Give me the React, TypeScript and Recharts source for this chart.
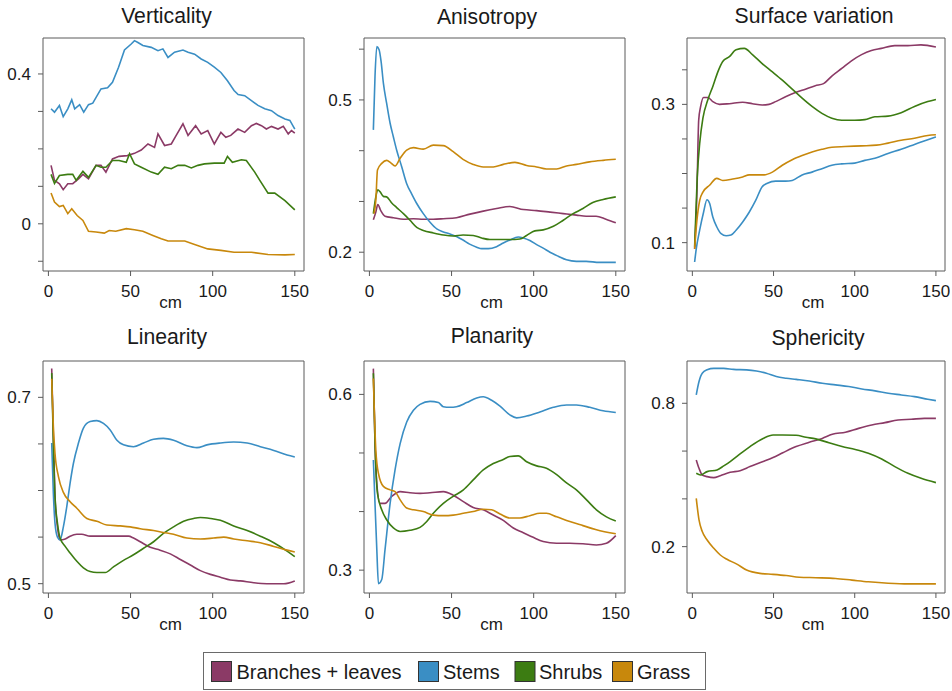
import React from 'react';
import { LineChart, Line, XAxis, YAxis, ReferenceArea } from 'recharts';

type Pt = [number, number];

// ---------- series names & colours ----------
const seriesNames = ['Branches + leaves', 'Stems', 'Shrubs', 'Grass'];
const seriesColors = ['#8B3A66', '#3A8EC4', '#3C7C12', '#C8880C'];

// ---------- shared x axis ----------
const xDomain = [-3.3, 155.6];
const xTicks = [0, 50, 100, 150];
const xLabel = 'cm';

// ---------- Verticality ----------
const verticalityYDomain = [-0.126, 0.496];
const verticalityYTicks = [-0.1, 0, 0.1, 0.2, 0.3, 0.4];
const verticalityYLabels = ['', '0', '', '', '', '0.4'];
const verticalityBranches: Pt[] = [[1.6,.156],[3.7,.116],[6.7,.107],[9,.091],[11.8,.107],[14.8,.107],[18.3,.12],[21,.132],[24.4,.12],[29,.156],[32,.156],[35,.138],[39,.173],[43,.18],[48,.182],[52.4,.188],[56.5,.197],[60.6,.213],[64.6,.204],[66.7,.24],[70.7,.209],[74.8,.213],[77.8,.236],[81.9,.267],[85,.236],[89.6,.262],[93,.24],[97,.249],[101,.213],[105,.244],[108,.231],[111,.236],[115.4,.253],[119.5,.244],[123.6,.262],[126.6,.268],[129.7,.262],[132.7,.253],[135.8,.26],[139.8,.253],[143,.26],[146,.24],[148,.249],[150,.242]];
const verticalityStems: Pt[] = [[1.6,.307],[3.7,.298],[6.7,.316],[9,.286],[11.8,.307],[14.2,.331],[16,.307],[19,.318],[21.5,.298],[24.4,.318],[27,.322],[32,.36],[36,.363],[39,.378],[42.7,.418],[46.3,.464],[50.4,.48],[52.4,.489],[54.5,.484],[57.5,.476],[62.6,.471],[66.7,.462],[69.7,.467],[72.8,.444],[76.8,.458],[81.9,.464],[85,.458],[89,.453],[93,.44],[97,.431],[101,.418],[105,.404],[109,.382],[113,.356],[115.5,.345],[119.5,.342],[123.6,.329],[127.6,.316],[131.7,.307],[135.8,.302],[139.8,.289],[144,.28],[147,.276],[150,.253]];
const verticalityShrubs: Pt[] = [[1.6,.132],[3.7,.108],[6.7,.129],[11.8,.132],[14.8,.132],[16.9,.116],[21,.14],[24.4,.124],[29,.156],[32,.151],[35,.151],[39,.169],[43,.169],[47.4,.164],[49.4,.187],[52.4,.16],[56.5,.151],[62.6,.138],[66.7,.132],[70.7,.151],[74.8,.147],[78.9,.156],[83,.156],[87,.149],[91,.156],[95,.16],[101,.162],[107,.162],[109,.18],[112,.164],[117.5,.171],[120.5,.169],[125.6,.138],[128.7,.116],[133.7,.082],[137.8,.082],[144,.062],[150,.037]];
const verticalityGrass: Pt[] = [[1.6,.082],[3.7,.058],[6.7,.046],[9,.049],[11.8,.027],[14.2,.04],[17.5,.022],[21,.009],[24.4,-.02],[29,-.022],[34,-.025],[37,-.018],[41,-.02],[47.4,-.013],[52.4,-.016],[57.5,-.02],[63.6,-.031],[68.7,-.04],[72.8,-.046],[83,-.046],[89,-.055],[97,-.067],[105,-.071],[113,-.076],[123.6,-.076],[133.7,-.082],[144,-.083],[150,-.082]];

// ---------- Anisotropy ----------
const anisotropyYDomain = [0.163, 0.622];
const anisotropyYTicks = [0.2, 0.3, 0.4, 0.5, 0.6];
const anisotropyYLabels = ['0.2', '', '', '0.5', ''];
const anisotropyBranches: Pt[] = [[2.4,.264],[3.9,.279],[5.1,.294],[6.9,.282],[9.5,.271],[14.6,.268],[20.7,.265],[26.8,.266],[32.8,.265],[38.9,.265],[45,.266],[53,.268],[61.2,.275],[69.3,.281],[77.4,.286],[85.5,.29],[93.7,.284],[101.8,.282],[110,.279],[118,.276],[126,.273],[132,.271],[138,.271],[144,.265],[150,.258]];
const anisotropyStems: Pt[] = [[2.4,.441],[3.4,.546],[4.5,.605],[5.9,.599],[7.1,.576],[8.5,.533],[10.5,.493],[12.6,.454],[14.6,.427],[16.6,.401],[19.7,.368],[22.7,.335],[25.7,.315],[28.8,.296],[32.8,.276],[36.9,.259],[41,.246],[45,.24],[49,.236],[53,.231],[57,.224],[61,.216],[65.3,.21],[68.3,.207],[72.4,.207],[77.4,.211],[81.5,.218],[85.5,.224],[90.6,.23],[93.7,.228],[97.7,.223],[101.8,.215],[105.8,.208],[109.9,.2],[115,.192],[120,.185],[126,.182],[132,.182],[140,.18],[150,.18]];
const anisotropyShrubs: Pt[] = [[2.4,.276],[3.9,.309],[5.1,.323],[6.5,.319],[8.5,.31],[10.5,.309],[13.6,.297],[16.6,.288],[20.7,.276],[24.7,.263],[28.8,.249],[32.8,.243],[38.9,.238],[45,.234],[51,.232],[57,.234],[63.2,.233],[68.3,.228],[73.4,.225],[79.5,.225],[85.5,.225],[91.6,.226],[95.7,.233],[100.7,.242],[105.8,.244],[112,.251],[118,.263],[124,.276],[130,.286],[136,.298],[142.3,.304],[150,.309]];
const anisotropyGrass: Pt[] = [[2.8,.276],[3.9,.302],[4.9,.362],[7.5,.375],[10.5,.381],[13,.376],[15.6,.37],[18.7,.385],[22.7,.401],[26.8,.406],[32.8,.403],[38.9,.411],[45,.41],[51,.398],[57,.383],[63.2,.373],[69.3,.368],[75.4,.368],[81.5,.373],[88.6,.377],[95.7,.371],[101.8,.368],[107.8,.364],[114,.364],[120,.37],[126,.373],[134,.378],[142.3,.381],[150,.383]];

// ---------- Surface variation ----------
const surfaceYDomain = [0.059, 0.396];
const surfaceYTicks = [0.1, 0.15, 0.2, 0.25, 0.3, 0.35];
const surfaceYLabels = ['0.1', '', '', '', '0.3', ''];
const surfaceBranches: Pt[] = [[1.4,.091],[2.8,.171],[3.9,.277],[5.1,.297],[6.9,.31],[9.6,.31],[12.6,.304],[16.7,.3],[22.8,.301],[31,.303],[37,.301],[43,.299],[47.2,.3],[51.3,.304],[57.4,.311],[63.5,.317],[69.6,.322],[75.7,.327],[80.8,.33],[85.9,.341],[92,.352],[98,.363],[104.2,.372],[110.3,.378],[116.4,.381],[124.6,.385],[132.7,.385],[140.8,.386],[150,.383]];
const surfaceStems: Pt[] = [[1.4,.072],[2.4,.091],[4.5,.118],[6.9,.144],[9,.162],[10.6,.157],[12.6,.137],[15,.123],[17.7,.113],[20.8,.11],[23.8,.111],[26.9,.118],[31,.13],[35,.144],[39,.161],[43,.181],[46.2,.186],[51.3,.189],[57.4,.189],[61.5,.19],[67.6,.198],[73.7,.202],[79.8,.207],[85.9,.212],[92,.214],[100,.215],[106.2,.219],[112.4,.222],[120.5,.229],[128.6,.235],[136.8,.242],[145,.249],[150,.253]];
const surfaceShrubs: Pt[] = [[1.4,.094],[3,.195],[4.5,.243],[6.5,.28],[9.6,.307],[12.6,.326],[15.7,.347],[18.7,.362],[22.8,.369],[26.9,.379],[32,.381],[37,.372],[43,.359],[49.3,.347],[55.4,.335],[61.5,.322],[67.6,.309],[73.7,.297],[79.8,.287],[85.9,.28],[92,.277],[100,.277],[106.2,.278],[112.4,.282],[120.5,.283],[128.6,.288],[136.8,.297],[145,.304],[150,.307]];
const surfaceGrass: Pt[] = [[1.4,.091],[2.8,.132],[4.5,.161],[6.5,.173],[10.6,.183],[15,.193],[18.7,.19],[24.8,.192],[31,.195],[35,.198],[44.2,.198],[49.3,.202],[55.4,.212],[61.5,.22],[67.6,.226],[73.7,.231],[79.8,.235],[85.9,.238],[94,.239],[104.2,.24],[113.4,.241],[120.5,.244],[128.6,.248],[136.8,.251],[145,.255],[150,.256]];

// ---------- Linearity ----------
const linearityYDomain = [0.49, 0.739];
const linearityYTicks = [0.5, 0.55, 0.6, 0.65, 0.7];
const linearityYLabels = ['0.5', '', '', '', '0.7'];
const linearityBranches: Pt[] = [[2,.731],[3,.658],[4,.594],[5.5,.561],[7.1,.547],[10.2,.548],[13.2,.551],[17.3,.553],[20.3,.553],[25.4,.551],[31.5,.551],[37.6,.551],[43.7,.551],[48.8,.551],[51.8,.549],[55.9,.545],[62,.539],[68,.536],[74.2,.532],[80.3,.526],[86.4,.52],[92.5,.514],[98.6,.51],[104.7,.507],[110.8,.504],[116.9,.503],[125,.501],[133,.5],[143.3,.5],[150,.503]];
const linearityStems: Pt[] = [[2,.651],[3,.597],[4,.565],[5.5,.55],[7.1,.547],[9.1,.561],[11.2,.583],[13.2,.608],[15.2,.629],[18.3,.651],[21.3,.667],[25.4,.674],[29.5,.675],[33.5,.672],[37.6,.665],[41.7,.654],[45.7,.649],[51.8,.647],[57.9,.651],[64,.655],[70,.656],[76.2,.654],[84.3,.648],[90.4,.646],[96.5,.649],[104.7,.651],[112.8,.652],[121,.651],[129,.647],[137.2,.643],[145.3,.638],[150,.636]];
const linearityShrubs: Pt[] = [[2,.726],[3,.651],[4,.594],[5.5,.565],[7.1,.549],[10.2,.54],[13.2,.533],[17.3,.524],[21.3,.517],[25.4,.513],[29.5,.512],[34.6,.512],[39.6,.518],[45.7,.525],[51.8,.531],[57.9,.538],[64,.545],[70,.554],[76.2,.561],[82.3,.567],[88.4,.57],[92.5,.571],[98.6,.57],[104.7,.568],[112.8,.562],[121,.557],[129,.551],[137.2,.544],[145.3,.535],[150,.529]];
const linearityGrass: Pt[] = [[2,.72],[3,.669],[4,.64],[6.1,.615],[9.1,.598],[13.2,.588],[17.3,.581],[23.4,.57],[29.5,.567],[35.6,.563],[43.7,.562],[49.8,.561],[55.9,.559],[64,.557],[70,.555],[76.2,.553],[84.3,.549],[92.5,.548],[100.6,.549],[106.7,.55],[112.8,.548],[121,.546],[129,.544],[137.2,.54],[145.3,.536],[150,.534]];

// ---------- Planarity ----------
const planarityYDomain = [0.261, 0.657];
const planarityYTicks = [0.3, 0.4, 0.5, 0.6];
const planarityYLabels = ['0.3', '', '', '0.6'];
const planarityBranches: Pt[] = [[2.4,.644],[3.4,.516],[4.5,.448],[6.5,.414],[9.5,.414],[13.6,.426],[18.7,.434],[24.7,.432],[30.8,.431],[36.9,.432],[45,.434],[51,.428],[57.2,.417],[63.2,.407],[69.3,.403],[75.4,.394],[81.5,.385],[87.6,.372],[93.7,.364],[99.7,.356],[105.8,.349],[113.9,.346],[122,.346],[130,.345],[138.2,.343],[144.3,.346],[150,.359]];
const planarityStems: Pt[] = [[2.4,.488],[3.4,.414],[4.5,.335],[5.5,.277],[7.5,.284],[9.5,.335],[12.6,.414],[15.6,.471],[18.7,.516],[22.7,.553],[26.8,.573],[30.8,.583],[36.9,.588],[42,.586],[45,.579],[49,.578],[53,.579],[59.2,.586],[65.3,.594],[69.3,.596],[74.4,.59],[79.5,.58],[85.5,.565],[89.6,.56],[95.7,.563],[103.8,.57],[112,.578],[120,.582],[126,.582],[134.2,.578],[142.3,.572],[150,.569]];
const planarityShrubs: Pt[] = [[2.4,.636],[3.4,.516],[4.9,.431],[7.5,.403],[10.5,.386],[14.6,.372],[18.7,.366],[24.7,.368],[30.8,.373],[34.9,.383],[38.9,.397],[45,.414],[51,.426],[57.2,.437],[63.2,.454],[69.3,.471],[75.4,.482],[81.5,.489],[85.5,.494],[90.6,.495],[95.7,.485],[101.8,.478],[107.8,.474],[114,.463],[120,.449],[126,.437],[132.2,.42],[138.2,.403],[144.3,.391],[150,.384]];
const planarityGrass: Pt[] = [[2.4,.627],[3.9,.505],[5.5,.465],[8.5,.443],[12.6,.437],[15.6,.434],[18.7,.42],[22.7,.406],[26.8,.403],[32.8,.4],[38.9,.394],[45,.393],[51,.394],[57.2,.397],[63.2,.4],[69.3,.404],[74.4,.403],[79.5,.396],[85.5,.389],[91.6,.389],[97.7,.393],[103.8,.397],[107.8,.397],[114,.391],[122,.383],[130,.376],[138.2,.369],[150,.362]];

// ---------- Sphericity ----------
const sphericityYDomain = [0.006, 0.977];
const sphericityYTicks = [0.2, 0.4, 0.6, 0.8];
const sphericityYLabels = ['0.2', '', '', '0.8'];
const sphericityBranches: Pt[] = [[2.4,.563],[4.1,.528],[6.1,.5],[9.1,.493],[13.2,.489],[17.2,.497],[23.3,.511],[29.4,.518],[35.5,.535],[43.6,.556],[49.7,.573],[55.7,.593],[63.9,.619],[72,.637],[80,.653],[86.2,.67],[94.3,.679],[102.4,.695],[110.5,.709],[118.6,.719],[126.7,.73],[134.8,.733],[142.9,.737],[150,.737]];
const sphericityStems: Pt[] = [[2.4,.835],[4.1,.891],[6.1,.926],[9.1,.94],[13.2,.946],[19.3,.946],[25.3,.942],[33.4,.94],[39.5,.935],[45.6,.926],[51.7,.912],[57.8,.905],[63.9,.9],[72,.893],[80,.884],[88.2,.877],[96.3,.87],[104.4,.86],[112.5,.852],[120.6,.842],[128.7,.835],[136.8,.828],[145,.817],[150,.811]];
const sphericityShrubs: Pt[] = [[2.4,.507],[5.1,.5],[9.1,.514],[15.2,.521],[19.3,.538],[23.3,.556],[29.4,.588],[35.5,.619],[43.6,.653],[49.7,.667],[55.7,.667],[63.9,.666],[70,.658],[76,.651],[84.1,.635],[92.2,.619],[100.3,.607],[108.4,.591],[116.6,.567],[124.7,.535],[132.8,.507],[140.9,.486],[150,.468]];
const sphericityGrass: Pt[] = [[2.4,.402],[4.1,.312],[6.1,.263],[9.1,.228],[13.2,.193],[17.2,.165],[21.3,.147],[27.4,.127],[33.4,.102],[41.6,.088],[49.7,.084],[57.8,.079],[65.9,.072],[76,.07],[88.2,.067],[98.3,.06],[108.4,.053],[120.6,.047],[132.8,.044],[150,.044]];

// ---------- layout ----------
const FONT = '"Liberation Sans", Arial, Helvetica, sans-serif';
const AXIS_GRAY = '#5a5a5a';
const TEXT = '#1a1a1a';

type Panel = {
  title: string;
  box: [number, number, number, number]; // left, top, right, bottom
  titleX: number;
  titleY: number;
  yDomain: number[];
  yTicks: number[];
  yLabels: string[];
  series: Pt[][];
  curve: 'linear' | 'monotone';
};

const panels: Panel[] = [
  { title: 'Verticality', box: [43, 38, 304, 271], titleX: 166.5, titleY: 23, yDomain: verticalityYDomain, yTicks: verticalityYTicks, yLabels: verticalityYLabels, series: [verticalityBranches, verticalityStems, verticalityShrubs, verticalityGrass], curve: 'linear' },
  { title: 'Anisotropy', box: [364, 38, 625, 271], titleX: 487, titleY: 23.5, yDomain: anisotropyYDomain, yTicks: anisotropyYTicks, yLabels: anisotropyYLabels, series: [anisotropyBranches, anisotropyStems, anisotropyShrubs, anisotropyGrass], curve: 'monotone' },
  { title: 'Surface variation', box: [687, 38, 945, 271], titleX: 814, titleY: 23, yDomain: surfaceYDomain, yTicks: surfaceYTicks, yLabels: surfaceYLabels, series: [surfaceBranches, surfaceStems, surfaceShrubs, surfaceGrass], curve: 'monotone' },
  { title: 'Linearity', box: [43, 361, 304, 593], titleX: 167, titleY: 343.5, yDomain: linearityYDomain, yTicks: linearityYTicks, yLabels: linearityYLabels, series: [linearityBranches, linearityStems, linearityShrubs, linearityGrass], curve: 'monotone' },
  { title: 'Planarity', box: [364, 361, 625, 593], titleX: 492, titleY: 343, yDomain: planarityYDomain, yTicks: planarityYTicks, yLabels: planarityYLabels, series: [planarityBranches, planarityStems, planarityShrubs, planarityGrass], curve: 'monotone' },
  { title: 'Sphericity', box: [687, 361, 945, 593], titleX: 818, titleY: 345, yDomain: sphericityYDomain, yTicks: sphericityYTicks, yLabels: sphericityYLabels, series: [sphericityBranches, sphericityStems, sphericityShrubs, sphericityGrass], curve: 'monotone' },
];

const toPts = (arr: Pt[]) => arr.map(([x, y]) => ({ x, y }));

const makeYTick = (ticks: number[], labels: string[]) => (props: any) => {
  const { x, y, payload } = props;
  const i = ticks.findIndex((t) => Math.abs(t - payload.value) < 1e-9);
  const lbl = i >= 0 ? labels[i] : '';
  return (
    <text x={x} y={y} dy="0.355em" textAnchor="end" fontSize={17} fontFamily={FONT} fill={TEXT}>
      {lbl}
    </text>
  );
};

const XTick = (props: any) => {
  const { x, y, payload } = props;
  return (
    <text x={x} y={y} dy="0.71em" textAnchor="middle" fontSize={17} fontFamily={FONT} fill={TEXT}>
      {payload.value}
    </text>
  );
};

const PAD_L = 45;
const PAD_T = 5;
const PAD_R = 5;
const XAX_H = 40;

function PanelChart({ p }: { p: Panel }) {
  const [l, t, r, b] = p.box;
  const w = r - l + PAD_L + PAD_R;
  const h = b - t + PAD_T + XAX_H;
  return (
    <div style={{ position: 'absolute', left: l - PAD_L, top: t - PAD_T, width: w, height: h }}>
      <LineChart width={w} height={h} margin={{ top: PAD_T, right: PAD_R, left: 0, bottom: 0 }}>
        <XAxis
          type="number"
          dataKey="x"
          domain={xDomain}
          allowDataOverflow
          ticks={xTicks}
          interval={0}
          height={XAX_H}
          axisLine={false}
          tickLine={{ stroke: AXIS_GRAY, strokeWidth: 1 }}
          tickSize={5}
          tickMargin={9}
          tick={XTick}
        />
        <YAxis
          type="number"
          dataKey="y"
          domain={p.yDomain}
          allowDataOverflow
          ticks={p.yTicks}
          interval={0}
          width={PAD_L}
          axisLine={false}
          tickLine={{ stroke: AXIS_GRAY, strokeWidth: 1 }}
          tickSize={5}
          tickMargin={7}
          tick={makeYTick(p.yTicks, p.yLabels)}
        />
        <ReferenceArea
          x1={xDomain[0]}
          x2={xDomain[1]}
          y1={p.yDomain[0]}
          y2={p.yDomain[1]}
          fill="none"
          fillOpacity={0}
          stroke={AXIS_GRAY}
          strokeWidth={1}
          ifOverflow="visible"
        />
        {p.series.map((s, i) => (
          <Line
            key={seriesNames[i]}
            data={toPts(s)}
            dataKey="y"
            type={p.curve}
            stroke={seriesColors[i]}
            strokeWidth={1.6}
            dot={false}
            activeDot={false}
            isAnimationActive={false}
          />
        ))}
      </LineChart>
    </div>
  );
}

const legendSquareX = [211.5, 418.5, 515, 612.5];
const legendTextX = [236.5, 443, 539, 637];

export default function App() {
  return (
    <div style={{ position: 'absolute', left: 0, top: 0, width: 952, height: 691, background: '#fff', overflow: 'hidden' }}>
      {panels.map((p) => (
        <PanelChart key={p.title} p={p} />
      ))}
      <svg width={952} height={691} style={{ position: 'absolute', left: 0, top: 0, pointerEvents: 'none' }}>
        {panels.map((p) => (
          <g key={p.title}>
            <text x={p.titleX} y={p.titleY} textAnchor="middle" fontSize={21.2} fontFamily={FONT} fill={TEXT}>
              {p.title}
            </text>
            <text x={(p.box[0] + p.box[2]) / 2 - 3} y={p.box[3] + 37} textAnchor="middle" fontSize={17} fontFamily={FONT} fill={TEXT}>
              {xLabel}
            </text>
          </g>
        ))}
        <rect x={203.5} y={652.5} width={502} height={37} fill="none" stroke="#6a6a6a" strokeWidth={1} />
        {seriesNames.map((n, i) => (
          <g key={n}>
            <rect x={legendSquareX[i]} y={661.5} width={20} height={20} fill={seriesColors[i]} stroke="#333" strokeWidth={1} />
            <text x={legendTextX[i]} y={679} fontSize={20} fontFamily={FONT} fill={TEXT}>
              {n}
            </text>
          </g>
        ))}
      </svg>
    </div>
  );
}
